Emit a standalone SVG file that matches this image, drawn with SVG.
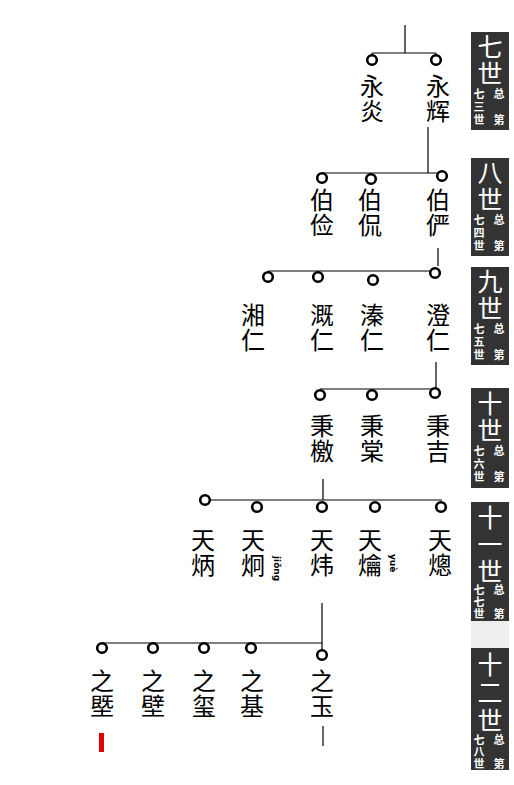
<svg xmlns="http://www.w3.org/2000/svg" width="514" height="785" viewBox="0 0 514 785">
<style>
.n{font-family:"Noto Sans CJK SC","Noto Sans CJK TC",sans-serif;font-size:24px;fill:#000;text-anchor:middle}
.c{fill:#fff;stroke:#000;stroke-width:2.6}
.l{stroke:#000;stroke-width:1.2;fill:none}
.b{fill:#333}
.L{font-family:"Noto Sans CJK SC",sans-serif;font-size:25px;fill:#fff;text-anchor:middle}
.s{font-family:"Noto Sans CJK SC",sans-serif;font-size:11px;font-weight:bold;fill:#fff;text-anchor:middle}
.p{font-family:"DejaVu Sans",sans-serif;font-size:9px;font-weight:bold;fill:#000}
</style>
<rect width="514" height="785" fill="#fff"/>
<g id="connectors">
<path class="l" d="M405 25V53M372 53H436M372 53V55M436 53V55"/>
<path class="l" d="M428 127V173M322 173H442"/>
<path class="l" d="M438 248V266M268 271H430"/>
<path class="l" d="M436 362V389M320 389H435"/>
<path class="l" d="M323 479V500M205 500H442"/>
<path class="l" d="M322 603V650M102 643H322"/>
<path class="l" d="M323 726V746"/>
</g>
<g id="gen7">
<circle class="c" cx="372" cy="60" r="4.8"/><circle class="c" cx="436" cy="60" r="4.8"/>
<text class="n" x="372" y="95">永<tspan x="372" dy="25">炎</tspan></text>
<text class="n" x="438" y="95">永<tspan x="438" dy="25">辉</tspan></text>
</g>
<g id="gen8">
<circle class="c" cx="322" cy="178" r="4.8"/><circle class="c" cx="371" cy="179" r="4.8"/><circle class="c" cx="442" cy="176" r="4.8"/>
<text class="n" x="322" y="209">伯<tspan x="322" dy="25">俭</tspan></text>
<text class="n" x="370" y="209">伯<tspan x="370" dy="25">侃</tspan></text>
<text class="n" x="438" y="209">伯<tspan x="438" dy="25">俨</tspan></text>
</g>
<g id="gen9">
<circle class="c" cx="268" cy="277" r="4.8"/><circle class="c" cx="318" cy="277" r="4.8"/><circle class="c" cx="373" cy="280" r="4.8"/><circle class="c" cx="435" cy="273" r="4.8"/>
<text class="n" x="253" y="324">湘<tspan x="253" dy="25">仁</tspan></text>
<text class="n" x="322" y="324">溉<tspan x="322" dy="25">仁</tspan></text>
<text class="n" x="372" y="324">溱<tspan x="372" dy="25">仁</tspan></text>
<text class="n" x="438" y="324">澄<tspan x="438" dy="25">仁</tspan></text>
</g>
<g id="gen10">
<circle class="c" cx="320" cy="395" r="4.8"/><circle class="c" cx="372" cy="395" r="4.8"/><circle class="c" cx="435" cy="393" r="4.8"/>
<text class="n" x="322" y="435">秉<tspan x="322" dy="25">檄</tspan></text>
<text class="n" x="372" y="435">秉<tspan x="372" dy="25">棠</tspan></text>
<text class="n" x="438" y="435">秉<tspan x="438" dy="25">吉</tspan></text>
</g>
<g id="gen11">
<circle class="c" cx="205" cy="500" r="4.8"/><circle class="c" cx="257" cy="507" r="4.8"/><circle class="c" cx="322" cy="507" r="4.8"/><circle class="c" cx="375" cy="507" r="4.8"/><circle class="c" cx="441" cy="507" r="4.8"/>
<text class="n" x="203" y="549">天<tspan x="203" dy="25">炳</tspan></text>
<text class="n" x="253" y="549">天<tspan x="253" dy="25">炯</tspan></text>
<text class="n" x="322" y="549">天<tspan x="322" dy="25">炜</tspan></text>
<text class="n" x="370" y="549">天<tspan x="370" dy="25">爚</tspan></text>
<text class="n" x="440" y="549">天<tspan x="440" dy="25">熜</tspan></text>
<text class="p" transform="translate(274 556) rotate(90)">jiǒng</text>
<text class="p" transform="translate(390 554) rotate(90)">yuè</text>
</g>
<g id="gen12">
<circle class="c" cx="102" cy="648" r="4.8"/><circle class="c" cx="153" cy="648" r="4.8"/><circle class="c" cx="204" cy="648" r="4.8"/><circle class="c" cx="251" cy="648" r="4.8"/><circle class="c" cx="322" cy="655" r="4.8"/>
<text class="n" x="102" y="690">之<tspan x="102" dy="25">塈</tspan></text>
<text class="n" x="153" y="690">之<tspan x="153" dy="25">壁</tspan></text>
<text class="n" x="204" y="690">之<tspan x="204" dy="25">玺</tspan></text>
<text class="n" x="252" y="690">之<tspan x="252" dy="25">基</tspan></text>
<text class="n" x="322" y="690">之<tspan x="322" dy="25">玉</tspan></text>
<rect x="99" y="733" width="5" height="19" fill="#e00000"/>
</g>
<g id="labels">
<g id="lab7"><rect class="b" x="471" y="32" width="38" height="98"/>
<text class="L" x="490" y="56">七</text><text class="L" x="490" y="83">世</text>
<text class="s" x="479" y="98">七</text><text class="s" x="479" y="111">三</text><text class="s" x="479" y="124">世</text>
<text class="s" x="499" y="98">总</text><text class="s" x="499" y="124">第</text></g>
<g id="lab8"><rect class="b" x="471" y="158" width="38" height="98"/>
<text class="L" x="490" y="182">八</text><text class="L" x="490" y="209">世</text>
<text class="s" x="479" y="224">七</text><text class="s" x="479" y="237">四</text><text class="s" x="479" y="250">世</text>
<text class="s" x="499" y="224">总</text><text class="s" x="499" y="250">第</text></g>
<g id="lab9"><rect class="b" x="471" y="267" width="38" height="98"/>
<text class="L" x="490" y="291">九</text><text class="L" x="490" y="318">世</text>
<text class="s" x="479" y="333">七</text><text class="s" x="479" y="346">五</text><text class="s" x="479" y="359">世</text>
<text class="s" x="499" y="333">总</text><text class="s" x="499" y="359">第</text></g>
<g id="lab10"><rect class="b" x="471" y="388" width="38" height="100"/>
<text class="L" x="490" y="413">十</text><text class="L" x="490" y="440">世</text>
<text class="s" x="479" y="455">七</text><text class="s" x="479" y="468">六</text><text class="s" x="479" y="481">世</text>
<text class="s" x="499" y="455">总</text><text class="s" x="499" y="481">第</text></g>
<g id="lab11"><rect class="b" x="471" y="502" width="38" height="119"/>
<text class="L" x="490" y="527">十</text><text class="L" x="490" y="554">一</text><text class="L" x="490" y="581">世</text>
<text class="s" x="479" y="594">七</text><text class="s" x="479" y="606">七</text><text class="s" x="479" y="618">世</text>
<text class="s" x="499" y="594">总</text><text class="s" x="499" y="618">第</text></g>
<rect x="471" y="621" width="38" height="27" fill="#eeeeee"/>
<g id="lab12"><rect class="b" x="471" y="648" width="38" height="122"/>
<text class="L" x="490" y="674">十</text><text class="L" x="490" y="702">二</text><text class="L" x="490" y="730">世</text>
<text class="s" x="479" y="744">七</text><text class="s" x="479" y="756">八</text><text class="s" x="479" y="768">世</text>
<text class="s" x="499" y="744">总</text><text class="s" x="499" y="768">第</text></g>
</g>
</svg>
